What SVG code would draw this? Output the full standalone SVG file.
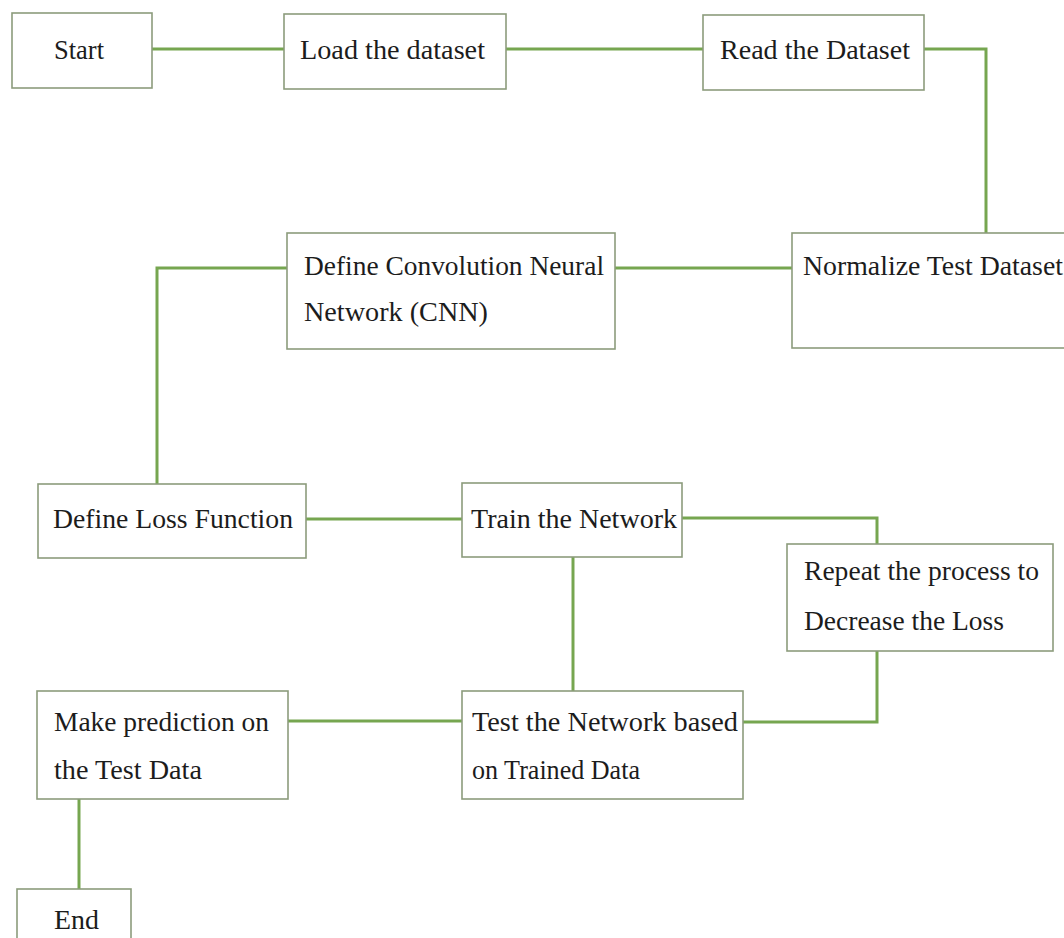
<svg xmlns="http://www.w3.org/2000/svg" width="1064" height="938" viewBox="0 0 1064 938">
<style>
.box{fill:#ffffff;stroke:#8c9c7c;stroke-width:1.6}
.conn{fill:none;stroke:#76a650;stroke-width:3}
</style>
<rect width="1064" height="938" fill="#ffffff"/>
<g id="connectors">
<path class="conn" d="M152,49 H284"/>
<path class="conn" d="M506,49 H703"/>
<path class="conn" d="M924,49 H986 V233"/>
<path class="conn" d="M615,268 H792"/>
<path class="conn" d="M287,268 H157 V484"/>
<path class="conn" d="M306,519 H462"/>
<path class="conn" d="M682,518 H877 V544"/>
<path class="conn" d="M573,557 V691"/>
<path class="conn" d="M877,651 V722 H743"/>
<path class="conn" d="M288,721 H462"/>
<path class="conn" d="M79,799 V889"/>
</g>
<g id="start"><rect class="box" x="12" y="13" width="140" height="75"/><text font-family="Liberation Serif" font-size="27" fill="#1c1c1c" x="54" y="59" textLength="50" lengthAdjust="spacingAndGlyphs">Start</text></g>
<g id="load"><rect class="box" x="284" y="14" width="222" height="75"/><text font-family="Liberation Serif" font-size="27" fill="#1c1c1c" x="300" y="59" textLength="185" lengthAdjust="spacingAndGlyphs">Load the dataset</text></g>
<g id="read"><rect class="box" x="703" y="15" width="221" height="75"/><text font-family="Liberation Serif" font-size="27" fill="#1c1c1c" x="720" y="59" textLength="190" lengthAdjust="spacingAndGlyphs">Read the Dataset</text></g>
<g id="normalize"><rect class="box" x="792" y="233" width="280" height="115"/><text font-family="Liberation Serif" font-size="27" fill="#1c1c1c" x="803" y="275" textLength="260" lengthAdjust="spacingAndGlyphs">Normalize Test Dataset</text></g>
<g id="cnn"><rect class="box" x="287" y="233" width="328" height="116"/><text font-family="Liberation Serif" font-size="27" fill="#1c1c1c" x="304" y="275" textLength="300" lengthAdjust="spacingAndGlyphs">Define Convolution Neural</text><text font-family="Liberation Serif" font-size="27" fill="#1c1c1c" x="304" y="321" textLength="184" lengthAdjust="spacingAndGlyphs">Network (CNN)</text></g>
<g id="loss"><rect class="box" x="38" y="484" width="268" height="74"/><text font-family="Liberation Serif" font-size="27" fill="#1c1c1c" x="53" y="528" textLength="240" lengthAdjust="spacingAndGlyphs">Define Loss Function</text></g>
<g id="train"><rect class="box" x="462" y="483" width="220" height="74"/><text font-family="Liberation Serif" font-size="27" fill="#1c1c1c" x="471" y="528" textLength="206" lengthAdjust="spacingAndGlyphs">Train the Network</text></g>
<g id="repeat"><rect class="box" x="787" y="544" width="266" height="107"/><text font-family="Liberation Serif" font-size="27" fill="#1c1c1c" x="804" y="580" textLength="235" lengthAdjust="spacingAndGlyphs">Repeat the process to</text><text font-family="Liberation Serif" font-size="27" fill="#1c1c1c" x="804" y="630" textLength="200" lengthAdjust="spacingAndGlyphs">Decrease the Loss</text></g>
<g id="test"><rect class="box" x="462" y="691" width="281" height="108"/><text font-family="Liberation Serif" font-size="27" fill="#1c1c1c" x="472" y="731" textLength="266" lengthAdjust="spacingAndGlyphs">Test the Network based</text><text font-family="Liberation Serif" font-size="27" fill="#1c1c1c" x="472" y="779" textLength="168" lengthAdjust="spacingAndGlyphs">on Trained Data</text></g>
<g id="predict"><rect class="box" x="37" y="691" width="251" height="108"/><text font-family="Liberation Serif" font-size="27" fill="#1c1c1c" x="54" y="731" textLength="215" lengthAdjust="spacingAndGlyphs">Make prediction on</text><text font-family="Liberation Serif" font-size="27" fill="#1c1c1c" x="54" y="779" textLength="148" lengthAdjust="spacingAndGlyphs">the Test Data</text></g>
<g id="end"><rect class="box" x="17" y="889" width="114" height="70"/><text font-family="Liberation Serif" font-size="27" fill="#1c1c1c" x="54" y="929" textLength="45" lengthAdjust="spacingAndGlyphs">End</text></g>
</svg>
